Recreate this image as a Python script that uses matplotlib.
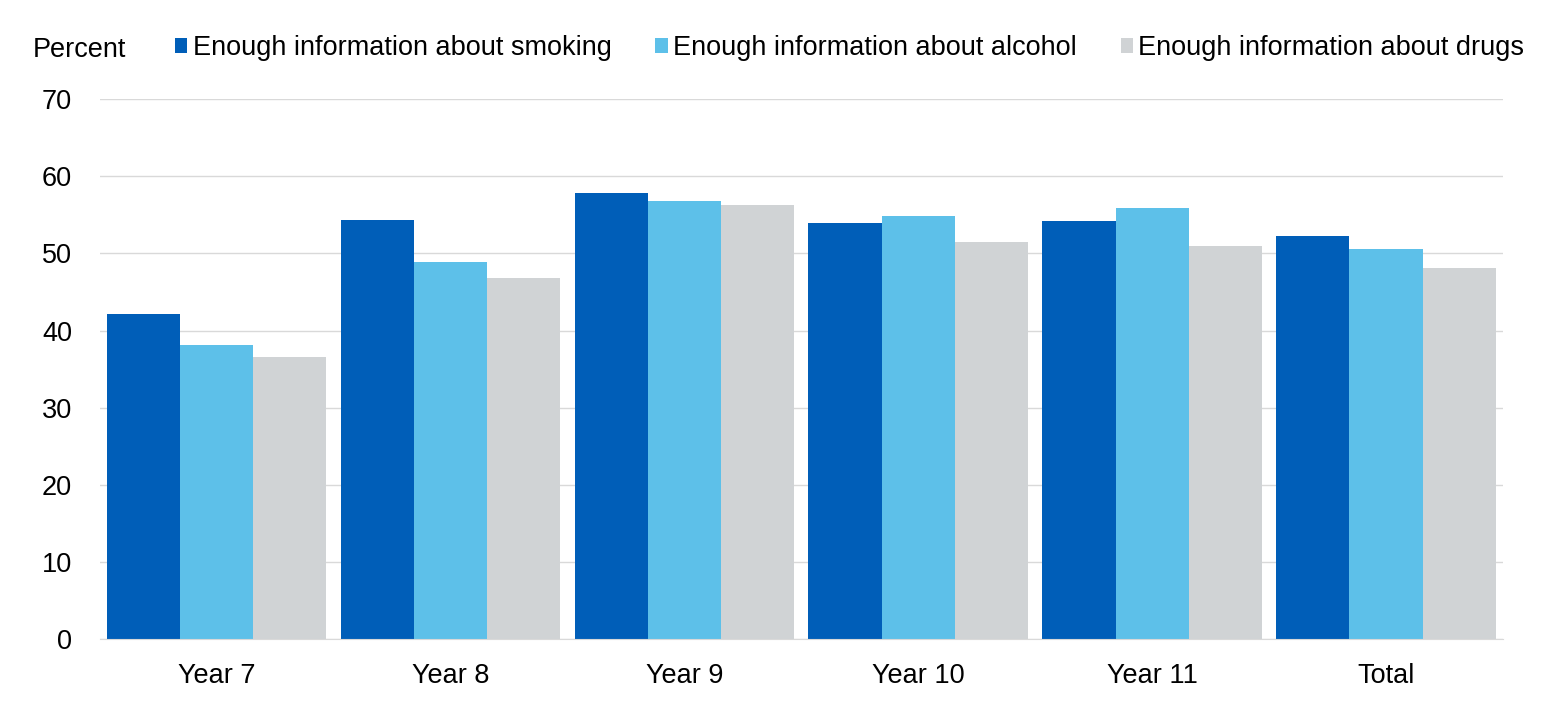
import numpy as np
import matplotlib.pyplot as plt

plt.rcParams['font.family'] = ['Liberation Sans', 'DejaVu Sans']

categorias = ['Year 7', 'Year 8', 'Year 9', 'Year 10', 'Year 11', 'Total']
fumo = [42.1, 54.3, 57.8, 53.9, 54.2, 52.2]
alcool = [38.1, 48.9, 56.8, 54.8, 55.9, 50.6]
drogas = [36.6, 46.8, 56.3, 51.5, 50.9, 48.1]
rotulos = ['Enough information about smoking',
           'Enough information about alcohol',
           'Enough information about drugs']
cores = ['#005EB8', '#5DC0E9', '#D0D3D5']

fig = plt.figure(figsize=(15.59, 7.15), dpi=100)
ax = fig.add_axes([0.064, 0.106, 0.9, 0.7555])

x = np.arange(len(categorias))
largura = 0.313
for i, (serie, rotulo, cor) in enumerate(zip([fumo, alcool, drogas], rotulos, cores)):
    ax.bar(x + (i - 1) * largura, serie, width=largura, color=cor, label=rotulo)

tam = 19.5
ax.set_xlim(-0.5, len(categorias) - 0.5)
ax.set_ylim(0, 70)
ax.set_yticks(range(0, 71, 10))
ax.set_xticks(x)
ax.set_xticklabels(categorias)
ax.tick_params(axis='both', length=0, labelsize=tam, colors='black')
ax.tick_params(axis='y', pad=20)
ax.tick_params(axis='x', pad=17)
ax.yaxis.grid(True, color='#D9D9D9', linewidth=1)
ax.set_axisbelow(True)
for lado in ['top', 'right', 'left']:
    ax.spines[lado].set_visible(False)
ax.spines['bottom'].set_color('#D9D9D9')

fig.text(33 / 1559, 1 - 50 / 715, 'Percent', fontsize=tam, va='center', ha='left')
ax.legend(loc='center left', bbox_to_anchor=(175 / 1559, 1 - 48 / 715),
          bbox_transform=fig.transFigure, ncol=3, frameon=False, fontsize=tam,
          handlelength=0.45, handleheight=0.45, handletextpad=0.2,
          columnspacing=1.62, borderaxespad=0, borderpad=0)

plt.savefig('out.png', dpi=100)
